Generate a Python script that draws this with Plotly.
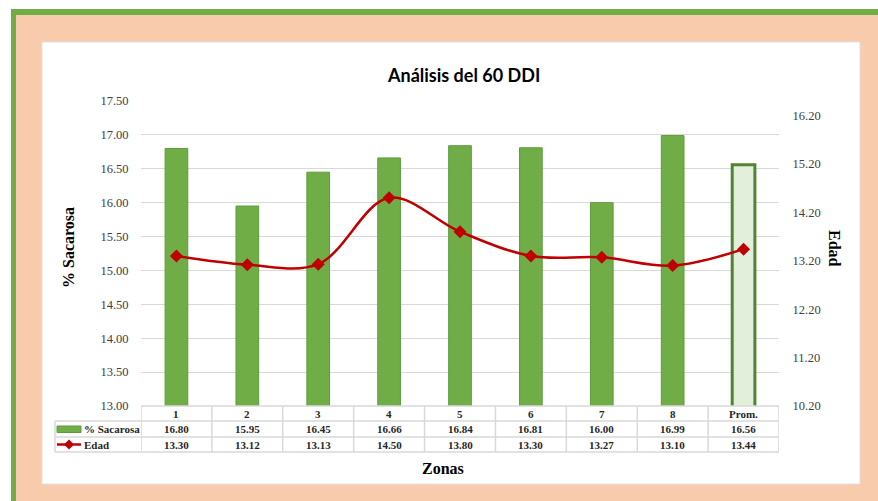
import plotly.graph_objects as go

W, H = 878, 501

categories = ["1", "2", "3", "4", "5", "6", "7", "8", "Prom."]
sacarosa = [16.80, 15.95, 16.45, 16.66, 16.84, 16.81, 16.00, 16.99, 16.56]
edad = [13.30, 13.12, 13.13, 14.50, 13.80, 13.30, 13.27, 13.10, 13.44]

title = "Análisis del 60 DDI"
left_title = "% Sacarosa"
right_title = "Edad"
x_title = "Zonas"
series_names = ["% Sacarosa", "Edad"]

GREEN = "#70AD47"
GREEN_DARK = "#548235"
PROM_FILL = "#E2EFDA"
RED = "#C00000"
GRID = "#D9D9D9"
SERIF = "Liberation Serif"


def px(x):
    return x / W


def py(y):
    return 1 - y / H


# plot area in pixels
PL, PR, PT, PB = 141, 779, 101, 406
# table row lines (pixels)
ROWS = [406, 421, 437, 452]
LEG_L = 55

n = len(categories)
bar_fill = [GREEN] * (n - 1) + [PROM_FILL]
bar_line = ["#5E9B3C"] * (n - 1) + [GREEN_DARK]
bar_lw = [1] * (n - 1) + [3]

fig = go.Figure()
fig.add_trace(go.Bar(
    x=categories, y=sacarosa, name=series_names[0],
    marker=dict(color=bar_fill, line=dict(color=bar_line, width=bar_lw)),
    width=0.32, yaxis="y", showlegend=False,
))
fig.add_trace(go.Scatter(
    x=categories, y=edad, name=series_names[1], mode="lines+markers",
    line=dict(color=RED, width=2.5, shape="spline", smoothing=1.0),
    marker=dict(symbol="diamond", size=10, color=RED),
    yaxis="y2", showlegend=False,
))

shapes = []
# background frame
shapes.append(dict(type="rect", xref="paper", yref="paper", x0=px(11), x1=px(W + 20),
                   y0=py(H + 20), y1=py(9), fillcolor="#70AD47", line=dict(width=0), layer="below"))
shapes.append(dict(type="rect", xref="paper", yref="paper", x0=px(16), x1=px(W + 20),
                   y0=py(H + 20), y1=py(15), fillcolor="#F8CBAD", line=dict(width=0), layer="below"))
shapes.append(dict(type="rect", xref="paper", yref="paper", x0=px(42), x1=px(860),
                   y0=py(484), y1=py(42), fillcolor="white", line=dict(color="#E0E0E0", width=1), layer="below"))

tline = dict(color=GRID, width=1.5)
# table horizontal lines
shapes.append(dict(type="line", xref="paper", yref="paper", x0=px(PL), x1=px(PR),
                   y0=py(ROWS[0]), y1=py(ROWS[0]), line=tline))
for r in ROWS[1:]:
    shapes.append(dict(type="line", xref="paper", yref="paper", x0=px(LEG_L), x1=px(PR),
                       y0=py(r), y1=py(r), line=tline))
# table vertical lines
for i in range(n + 1):
    shapes.append(dict(type="line", xref="x", yref="paper", x0=i - 0.5, x1=i - 0.5,
                       y0=py(ROWS[-1]), y1=py(ROWS[0]), line=tline))
shapes.append(dict(type="line", xref="paper", yref="paper", x0=px(LEG_L), x1=px(LEG_L),
                   y0=py(ROWS[-1]), y1=py(ROWS[1]), line=tline))
# legend keys in table
shapes.append(dict(type="rect", xref="paper", yref="paper", x0=px(57), x1=px(81),
                   y0=py(432.5), y1=py(426), fillcolor=GREEN, line=dict(color="#5E9B3C", width=1)))
ym = (ROWS[2] + ROWS[3]) / 2
shapes.append(dict(type="line", xref="paper", yref="paper", x0=px(57), x1=px(81),
                   y0=py(ym), y1=py(ym), line=dict(color=RED, width=2.5)))
cx = 69
shapes.append(dict(type="path", xref="paper", yref="paper",
                   path=f"M {px(cx-5)} {py(ym)} L {px(cx)} {py(ym-5)} L {px(cx+5)} {py(ym)} L {px(cx)} {py(ym+5)} Z",
                   fillcolor=RED, line=dict(color=RED, width=0)))

annotations = []
tfont = dict(family=SERIF, size=11, color="#262626")


def ann(x, y, text, font, xref="paper", **kw):
    d = dict(x=x, xref=xref, y=y, yref="paper", text=text, showarrow=False,
             font=font, xanchor="center", yanchor="middle")
    d.update(kw)
    annotations.append(d)


for i, c in enumerate(categories):
    ann(i, py((ROWS[0] + ROWS[1]) / 2), f"<b>{c}</b>", tfont, xref="x")
    ann(i, py((ROWS[1] + ROWS[2]) / 2), f"<b>{sacarosa[i]:.2f}</b>", tfont, xref="x")
    ann(i, py((ROWS[2] + ROWS[3]) / 2), f"<b>{edad[i]:.2f}</b>", tfont, xref="x")
ann(px(82), py((ROWS[1] + ROWS[2]) / 2), f"<b>{series_names[0]}</b>", tfont, xanchor="left")
ann(px(82), py((ROWS[2] + ROWS[3]) / 2), f"<b>{series_names[1]}</b>", tfont, xanchor="left")
# titles
ann(px(463), py(75), f"<b>{title}</b>", dict(family="Lato", size=18, color="black"))
ann(px(68), py(248), f"<b>{left_title}</b>", dict(family=SERIF, size=16, color="black"), textangle=-90)
ann(px(835), py(248), f"<b>{right_title}</b>", dict(family=SERIF, size=16, color="black"), textangle=90)
ann(px(443), py(468), f"<b>{x_title}</b>", dict(family=SERIF, size=16, color="black"))

tickfont = dict(family=SERIF, size=12.5, color="#404040")
fig.update_layout(
    template="none",
    width=W, height=H,
    margin=dict(l=0, r=0, t=0, b=0, pad=0, autoexpand=False),
    paper_bgcolor="white", plot_bgcolor="rgba(0,0,0,0)",
    showlegend=False,
    xaxis=dict(domain=[px(PL), px(PR)], type="category", showticklabels=False, automargin=False,
               showgrid=False, zeroline=False, showline=False, ticks="", range=[-0.5, n - 0.5]),
    yaxis=dict(domain=[py(PB), py(PT)], range=[13, 17.5], dtick=0.5, tick0=13, automargin=False,
               tickformat=".2f", showgrid=True, gridcolor=GRID, gridwidth=1.2,
               zeroline=False, showline=False, ticks="outside", ticklen=9,
               tickcolor="rgba(0,0,0,0)", tickfont=tickfont),
    yaxis2=dict(overlaying="y", side="right", range=[10.2, 16.5], dtick=1, tick0=10.2,
                automargin=False,
                tickformat=".2f", showgrid=False, zeroline=False, showline=False,
                ticks="outside", ticklen=10, tickcolor="rgba(0,0,0,0)", tickfont=tickfont),
    shapes=shapes, annotations=annotations,
)

fig.write_html("out.html")
